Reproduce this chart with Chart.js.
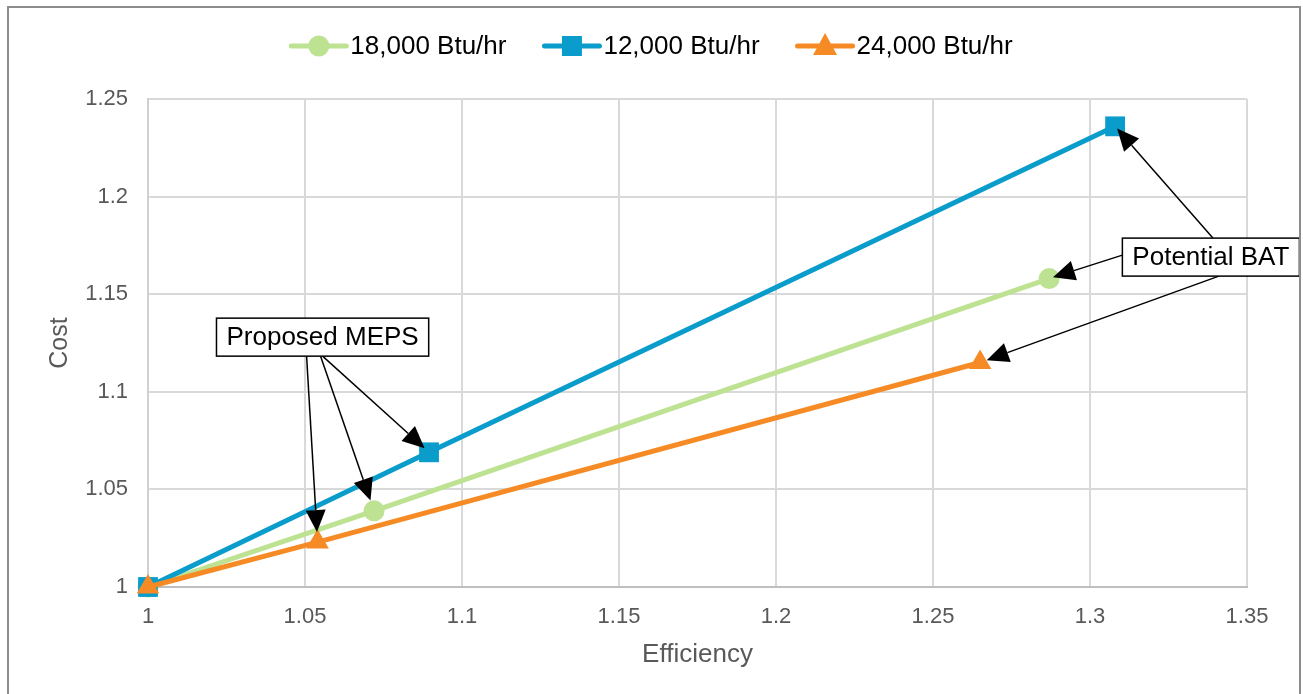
<!DOCTYPE html>
<html>
<head>
<meta charset="utf-8">
<script src="https://cdn.jsdelivr.net/npm/chart.js@4.4.0/dist/chart.umd.min.js"></script>
<style>
    body { margin: 0; background: #fff; }
    canvas { display: block; }
</style>
</head>
<body>
<canvas id="cost-chart" width="1303" height="694"></canvas>
<script>
    "use strict";

    // Data
    var seriesNames = ["18,000 Btu/hr", "12,000 Btu/hr", "24,000 Btu/hr"];
    var efficiency18k = [1, 1.072, 1.287];
    var cost18k = [1, 1.039, 1.158];
    var efficiency12k = [1, 1.0895, 1.308];
    var cost12k = [1, 1.069, 1.236];
    var efficiency24k = [1, 1.054, 1.265];
    var cost24k = [1, 1.023, 1.115];
    var xTicks = [1, 1.05, 1.1, 1.15, 1.2, 1.25, 1.3, 1.35];
    var yTicks = [1, 1.05, 1.1, 1.15, 1.2, 1.25];

    var colors = ["#BCE292", "#0A9CCB", "#F68B25"];
    var markers = ["circle", "rect", "triangle"];
    var FONT = "'Liberation Sans', Arial, sans-serif";

    function toPoints(xs, ys) {
        return xs.map(function (x, i) { return {x: x, y: ys[i]}; });
    }

    // Callout boxes, anchored in data coordinates; arrows point at data points
    var callouts = [
        {
            text: "Proposed MEPS", x: 1.0556, y: 1.128,
            arrows: [
                {from: [-16, "bottom"], ds: 2, idx: 1, gap: 10},
                {from: [-2, "bottom"], ds: 0, idx: 1, gap: 11},
                {from: [0, "bottom"], ds: 1, idx: 1, gap: 6}
            ]
        },
        {
            text: "Potential BAT", x: 1.3385, y: 1.169,
            arrows: [
                {from: [2, "top"], ds: 1, idx: 2, gap: 3},
                {from: [-2, "left"], ds: 0, idx: 2, gap: 4},
                {from: [8, "bottom"], ds: 2, idx: 2, gap: 7}
            ]
        }
    ];

    function drawArrow(ctx, x1, y1, x2, y2) {
        var ang = Math.atan2(y2 - y1, x2 - x1);
        var headLen = 22, headW = 10;
        var bx = x2 - headLen * Math.cos(ang), by = y2 - headLen * Math.sin(ang);
        ctx.beginPath();
        ctx.moveTo(x1, y1);
        ctx.lineTo(bx, by);
        ctx.strokeStyle = "#000";
        ctx.lineWidth = 1.5;
        ctx.stroke();
        ctx.beginPath();
        ctx.moveTo(x2, y2);
        ctx.lineTo(bx + headW * Math.sin(ang), by - headW * Math.cos(ang));
        ctx.lineTo(bx - headW * Math.sin(ang), by + headW * Math.cos(ang));
        ctx.closePath();
        ctx.fillStyle = "#000";
        ctx.fill();
    }

    var calloutPlugin = {
        id: "callouts",
        afterDatasetsDraw: function (chart) {
            var ctx = chart.ctx, xs = chart.scales.x, ys = chart.scales.y;
            ctx.save();
            ctx.font = "26px " + FONT;
            callouts.forEach(function (c) {
                var cx = xs.getPixelForValue(c.x), cy = ys.getPixelForValue(c.y);
                var w = ctx.measureText(c.text).width + 20, h = 38;
                var left = cx - w / 2, top = cy - h / 2;

                c.arrows.forEach(function (a) {
                    var sx, sy;
                    if (a.from[1] === "bottom") { sx = cx + a.from[0]; sy = top + h; }
                    else if (a.from[1] === "top") { sx = cx + a.from[0]; sy = top; }
                    else { sx = left; sy = cy + a.from[0]; }
                    var pt = chart.getDatasetMeta(a.ds).data[a.idx];
                    var dx = pt.x - sx, dy = pt.y - sy, len = Math.sqrt(dx * dx + dy * dy);
                    drawArrow(ctx, sx, sy, pt.x - dx / len * a.gap, pt.y - dy / len * a.gap);
                });

                ctx.fillStyle = "#fff";
                ctx.fillRect(left, top, w, h);
                ctx.strokeStyle = "#000";
                ctx.lineWidth = 1.5;
                ctx.strokeRect(left, top, w, h);
                ctx.fillStyle = "#000";
                ctx.textAlign = "center";
                ctx.textBaseline = "middle";
                ctx.fillText(c.text, cx, cy + 1);
            });
            ctx.restore();
        }
    };

    // Legend with line + marker, drawn the way the office chart shows it
    var legendPlugin = {
        id: "lineLegend",
        afterDraw: function (chart) {
            var ctx = chart.ctx;
            ctx.save();
            ctx.font = "26px " + FONT;
            var lineW = 55, gapText = 4, gapItem = 38, y = 46;
            var total = 0;
            seriesNames.forEach(function (n, i) {
                total += lineW + gapText + ctx.measureText(n).width + (i < seriesNames.length - 1 ? gapItem : 0);
            });
            var x = 652 - total / 2;
            seriesNames.forEach(function (n, i) {
                ctx.strokeStyle = colors[i];
                ctx.lineWidth = 5;
                ctx.lineCap = "round";
                ctx.beginPath();
                ctx.moveTo(x, y);
                ctx.lineTo(x + lineW, y);
                ctx.stroke();
                var mx = x + lineW / 2;
                ctx.fillStyle = colors[i];
                ctx.beginPath();
                if (markers[i] === "circle") {
                    ctx.arc(mx, y, 10.5, 0, Math.PI * 2);
                } else if (markers[i] === "rect") {
                    ctx.rect(mx - 10, y - 10, 20, 20);
                } else {
                    ctx.moveTo(mx, y - 13);
                    ctx.lineTo(mx + 12, y + 9);
                    ctx.lineTo(mx - 12, y + 9);
                    ctx.closePath();
                }
                ctx.fill();
                ctx.fillStyle = "#000";
                ctx.textBaseline = "middle";
                ctx.fillText(n, x + lineW + gapText, y + 1);
                x += lineW + gapText + ctx.measureText(n).width + gapItem;
            });

            // outer frame
            ctx.strokeStyle = "#8C8C8C";
            ctx.lineWidth = 2;
            ctx.strokeRect(8, 7, 1292, 700);
            ctx.restore();
        }
    };

    var ctx1 = document.getElementById("cost-chart").getContext("2d");
    var myChart1 = new Chart(ctx1, {
        type: "scatter",
        data: {
            datasets: [{
                    label: seriesNames[0],
                    data: toPoints(efficiency18k, cost18k),
                    borderColor: colors[0],
                    backgroundColor: colors[0],
                    pointStyle: markers[0],
                    pointRadius: 10.5,
                    order: 3
                },
                {
                    label: seriesNames[1],
                    data: toPoints(efficiency12k, cost12k),
                    borderColor: colors[1],
                    backgroundColor: colors[1],
                    pointStyle: markers[1],
                    pointRadius: 14,
                    order: 2
                },
                {
                    label: seriesNames[2],
                    data: toPoints(efficiency24k, cost24k),
                    borderColor: colors[2],
                    backgroundColor: colors[2],
                    pointStyle: markers[2],
                    pointRadius: 13,
                    order: 1
                }
            ]
        },
        options: {
            responsive: false,
            animation: false,
            showLine: true,
            clip: false,
            elements: {
                line: {borderWidth: 5, tension: 0},
                point: {borderWidth: 0}
            },
            layout: {padding: {left: 0, top: 99, right: 56, bottom: 0}},
            plugins: {
                legend: {display: false},
                tooltip: {enabled: false}
            },
            scales: {
                x: {
                    type: "linear",
                    min: 1,
                    max: 1.35,
                    afterBuildTicks: function (axis) {
                        axis.ticks = xTicks.map(function (v) { return {value: v}; });
                    },
                    afterFit: function (axis) { axis.height = 107; },
                    ticks: {
                        color: "#595959",
                        font: {family: FONT, size: 22},
                        padding: 17,
                        maxRotation: 0,
                        callback: function (v) { return String(v); }
                    },
                    grid: {color: "#D9D9D9", lineWidth: 2, drawTicks: false},
                    border: {color: "#BFBFBF", width: 2},
                    title: {
                        display: true,
                        text: "Efficiency",
                        color: "#595959",
                        font: {family: FONT, size: 26},
                        padding: {top: 0, bottom: 24}
                    }
                },
                y: {
                    type: "linear",
                    min: 1,
                    max: 1.25,
                    afterBuildTicks: function (axis) {
                        axis.ticks = yTicks.map(function (v) { return {value: v}; });
                    },
                    afterFit: function (axis) { axis.width = 148; },
                    ticks: {
                        color: "#595959",
                        font: {family: FONT, size: 22},
                        padding: 20,
                        callback: function (v) { return String(v); }
                    },
                    grid: {color: "#D9D9D9", lineWidth: 2, drawTicks: false},
                    border: {color: "#D0D0D0", width: 2},
                    title: {
                        display: true,
                        text: "Cost",
                        color: "#595959",
                        font: {family: FONT, size: 25},
                        padding: {top: 45, bottom: 0}
                    }
                }
            }
        },
        plugins: [calloutPlugin, legendPlugin]
    });
</script>
</body>
</html>
